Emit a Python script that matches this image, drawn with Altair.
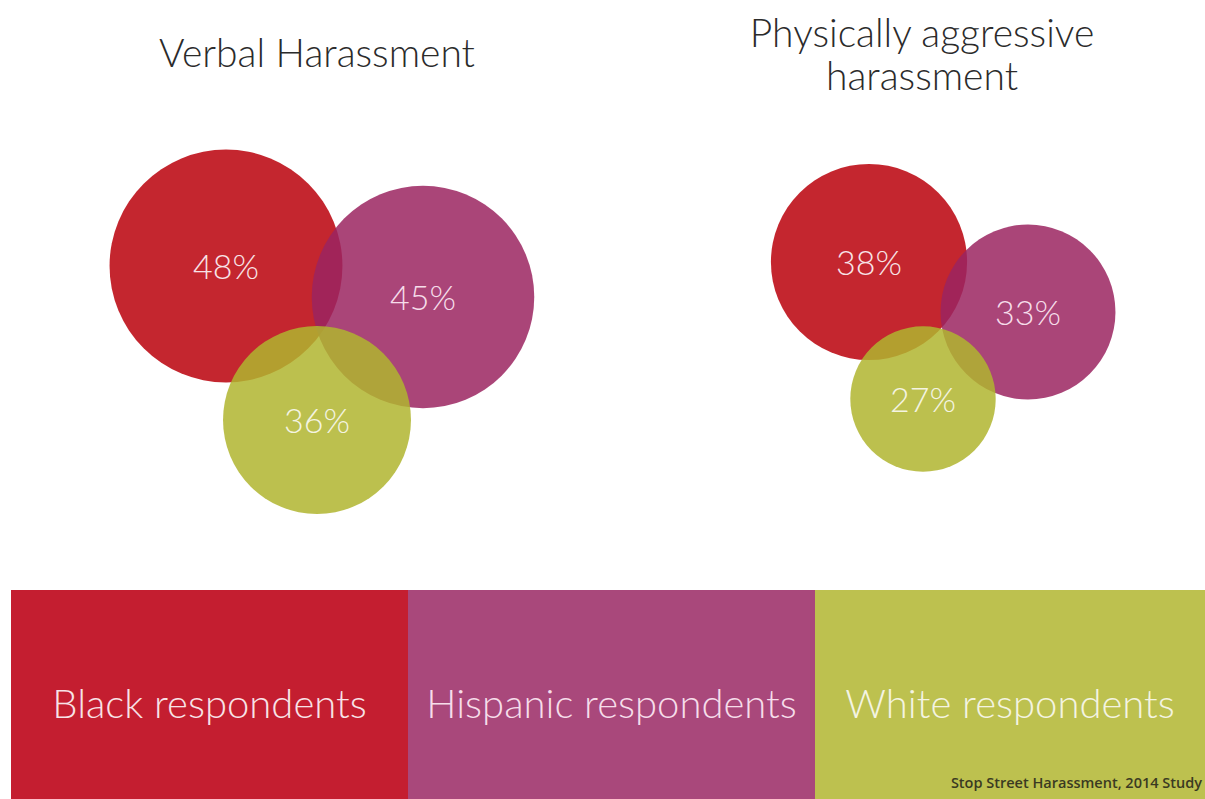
import altair as alt
import pandas as pd

# ---------------- data ----------------
groups = ["Black respondents", "Hispanic respondents", "White respondents"]
verbal_pct = [48, 45, 36]
physical_pct = [38, 33, 27]
panel_titles = ["Verbal Harassment", "Physically aggressive", "harassment"]
source_note = "Stop Street Harassment, 2014 Study"

# ---------------- layout (pixel canvas) ----------------
W, H = 1205, 799
verbal_xy = [(226, 266), (423, 297), (317, 420)]
physical_xy = [(869, 262), (1028, 312), (923, 399)]
title_xy = [(317, 67), (922, 47), (922, 90)]
legend_edges = [11, 408, 815, 1205]
legend_top, legend_bottom = 590, 799
legend_text_y = 718

legend_colors = ["#C41E30", "#A9487B", "#BDC14F"]
bubble_colors = ["#BA000B", "#9B2560", "#B0B52F"]
label_colors = ["#F8E3E7", "#F6DDEA", "#F4F4E2"]

rows = []
for panel, pcts, xy in [("Verbal", verbal_pct, verbal_xy), ("Physical", physical_pct, physical_xy)]:
    for g, p, (cx, cy) in zip(groups, pcts, xy):
        rows.append({"panel": panel, "group": g, "pct": p, "cx": cx, "cy": cy, "label": f"{p}%"})
bubbles = pd.DataFrame(rows)

legend_df = pd.DataFrame({
    "group": groups,
    "x0": legend_edges[:-1],
    "x1": legend_edges[1:],
    "y0": [legend_top] * 3,
    "y1": [legend_bottom] * 3,
})
legend_df["xm"] = (legend_df["x0"] + legend_df["x1"]) / 2
legend_df["ym"] = legend_text_y

titles_df = pd.DataFrame({
    "title": panel_titles,
    "tx": [t[0] for t in title_xy],
    "ty": [t[1] for t in title_xy],
})

xs = alt.Scale(domain=[0, W], nice=False, zero=False)
ys = alt.Scale(domain=[0, H], nice=False, zero=False, reverse=True)

FONT = "Lato"

circles = alt.Chart(bubbles).mark_circle(opacity=0.85, stroke=None).encode(
    x=alt.X("cx:Q", scale=xs, axis=None),
    y=alt.Y("cy:Q", scale=ys, axis=None),
    size=alt.Size("pct:Q", scale=alt.Scale(type="linear", domain=[27, 48], range=[21140, 54240], zero=False), legend=None),
    color=alt.Color("group:N", scale=alt.Scale(domain=groups, range=bubble_colors), legend=None),
    order=alt.Order("pct:Q", sort="descending"),
)

labels = alt.Chart(bubbles).mark_text(font=FONT, fontSize=34, fontWeight=300, baseline="middle", align="center", dy=3).encode(
    x=alt.X("cx:Q", scale=xs, axis=None),
    y=alt.Y("cy:Q", scale=ys, axis=None),
    text="label:N",
    color=alt.Color("group:N", scale=alt.Scale(domain=groups, range=label_colors), legend=None),
)

titles = alt.Chart(titles_df).mark_text(font=FONT, fontSize=39, fontWeight=300, baseline="alphabetic", align="center",
                                        color="#2b2b2b").encode(
    x=alt.X("tx:Q", scale=xs, axis=None),
    y=alt.Y("ty:Q", scale=ys, axis=None),
    text="title:N",
)

legend_rects = alt.Chart(legend_df).mark_rect().encode(
    x=alt.X("x0:Q", scale=xs, axis=None),
    x2="x1:Q",
    y=alt.Y("y0:Q", scale=ys, axis=None),
    y2="y1:Q",
    color=alt.Color("group:N", scale=alt.Scale(domain=groups, range=legend_colors), legend=None),
)

legend_text = alt.Chart(legend_df).mark_text(font=FONT, fontSize=40, fontWeight=300, baseline="alphabetic", align="center").encode(
    x=alt.X("xm:Q", scale=xs, axis=None),
    y=alt.Y("ym:Q", scale=ys, axis=None),
    text="group:N",
    color=alt.Color("group:N", scale=alt.Scale(domain=groups, range=label_colors), legend=None),
)

source = alt.Chart(pd.DataFrame({"note": [source_note], "sx": [1202], "sy": [788]})).mark_text(
    font="Open Sans", fontSize=14.5, fontWeight=600, align="right", baseline="alphabetic", color="#3a3a22"
).encode(
    x=alt.X("sx:Q", scale=xs, axis=None),
    y=alt.Y("sy:Q", scale=ys, axis=None),
    text="note:N",
)

chart = alt.layer(
    legend_rects, circles, labels, titles, legend_text, source
).resolve_scale(color="independent").properties(
    width=W, height=H, padding=0, autosize=alt.AutoSizeParams(type="none"), background="white"
).configure_view(stroke=None)

chart.save("out.html", embed_options={"renderer": "svg", "actions": False})
